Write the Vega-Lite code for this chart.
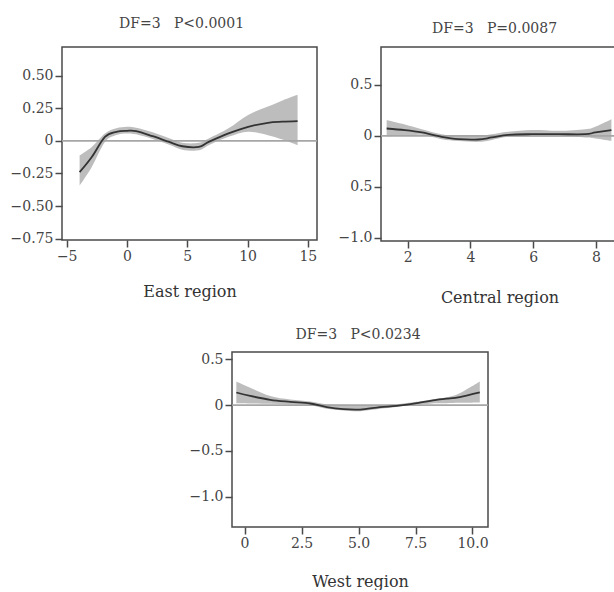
{
  "$schema": "https://vega.github.io/schema/vega-lite/v6.json",
  "padding": {"left": 0, "top": 16, "right": 0, "bottom": 0},
  "background": "white",
  "datasets": {
    "east": [
      {"x": -3.93, "y": -0.24, "lo": -0.343, "hi": -0.111},
      {"x": -2.92, "y": -0.124, "lo": -0.2, "hi": -0.046},
      {"x": -1.83, "y": 0.031, "lo": -0.008, "hi": 0.057},
      {"x": -0.88, "y": 0.07, "lo": 0.045, "hi": 0.096},
      {"x": 0, "y": 0.077, "lo": 0.057, "hi": 0.108},
      {"x": 0.76, "y": 0.075, "lo": 0.05, "hi": 0.1},
      {"x": 2.13, "y": 0.036, "lo": 0.014, "hi": 0.066},
      {"x": 3.5, "y": -0.008, "lo": -0.03, "hi": 0.02},
      {"x": 4.59, "y": -0.041, "lo": -0.067, "hi": -0.015},
      {"x": 5.96, "y": -0.046, "lo": -0.072, "hi": -0.015},
      {"x": 6.78, "y": -0.008, "lo": -0.033, "hi": 0.018},
      {"x": 8.42, "y": 0.057, "lo": 0.031, "hi": 0.096},
      {"x": 10.05, "y": 0.108, "lo": 0.07, "hi": 0.199},
      {"x": 11.69, "y": 0.139, "lo": 0.044, "hi": 0.263},
      {"x": 12.9, "y": 0.147, "lo": 0.01, "hi": 0.31},
      {"x": 14.15, "y": 0.152, "lo": -0.033, "hi": 0.353}
    ],
    "central": [
      {"x": 1.33, "y": 0.072, "lo": -0.005, "hi": 0.154},
      {"x": 1.91, "y": 0.056, "lo": 0.0, "hi": 0.11},
      {"x": 2.45, "y": 0.033, "lo": 0.01, "hi": 0.065},
      {"x": 3.08, "y": -0.01, "lo": -0.033, "hi": 0.016},
      {"x": 3.62, "y": -0.033, "lo": -0.05, "hi": 0.0},
      {"x": 4.25, "y": -0.036, "lo": -0.059, "hi": 0.0},
      {"x": 4.68, "y": -0.016, "lo": -0.04, "hi": 0.015},
      {"x": 5.21, "y": 0.01, "lo": -0.01, "hi": 0.039},
      {"x": 5.96, "y": 0.016, "lo": -0.01, "hi": 0.056},
      {"x": 6.81, "y": 0.016, "lo": -0.01, "hi": 0.049},
      {"x": 7.66, "y": 0.016, "lo": -0.016, "hi": 0.065},
      {"x": 7.98, "y": 0.033, "lo": -0.025, "hi": 0.09},
      {"x": 8.49, "y": 0.056, "lo": -0.049, "hi": 0.163}
    ],
    "west": [
      {"x": -0.36, "y": 0.138, "lo": 0.02, "hi": 0.258},
      {"x": 0.25, "y": 0.1, "lo": 0.018, "hi": 0.19},
      {"x": 1.13, "y": 0.058, "lo": 0.014, "hi": 0.1},
      {"x": 2.0, "y": 0.036, "lo": 0.008, "hi": 0.062},
      {"x": 2.88, "y": 0.018, "lo": 0.0, "hi": 0.04},
      {"x": 3.61, "y": -0.022, "lo": -0.04, "hi": 0.01},
      {"x": 4.34, "y": -0.044, "lo": -0.059, "hi": 0.003},
      {"x": 5.07, "y": -0.048, "lo": -0.066, "hi": 0.0},
      {"x": 5.94, "y": -0.022, "lo": -0.04, "hi": 0.0},
      {"x": 6.67, "y": -0.008, "lo": -0.02, "hi": 0.01},
      {"x": 7.55, "y": 0.022, "lo": 0.003, "hi": 0.036},
      {"x": 8.42, "y": 0.058, "lo": 0.02, "hi": 0.07},
      {"x": 8.86, "y": 0.07, "lo": 0.022, "hi": 0.085},
      {"x": 9.44, "y": 0.088, "lo": 0.025, "hi": 0.13},
      {"x": 10.32, "y": 0.138, "lo": 0.029, "hi": 0.258}
    ],
    "zero": [{"v": 0}]
  },
  "vconcat": [
    {
      "hconcat": [
        {
          "width": 255,
          "height": 193,
          "title": {"text": "DF=3\u00a0\u00a0\u00a0P<0.0001", "offset": 16, "dx": -8},
          "layer": [
            {
              "data": {"name": "east"},
              "mark": {"type": "area", "color": "#bdbdbd", "interpolate": "cardinal"},
              "encoding": {
                "x": {"field": "x", "type": "quantitative", "title": "East region", "scale": {"domain": [-5.39, 15.76], "nice": false, "zero": false}, "axis": {"values": [-5, 0, 5, 10, 15], "tickCount": 10, "titleY": 56, "titleBaseline": "alphabetic", "labelOverlap": false}},
                "y": {"field": "lo", "type": "quantitative", "title": null, "scale": {"domain": [-0.76, 0.72], "nice": false, "zero": false}, "axis": {"values": [-0.75, -0.5, -0.25, 0, 0.25, 0.5], "tickCount": 10, "labelExpr": "datum.value == 0 ? '0' : format(datum.value, '.2f')", "labelOverlap": false, "minExtent": 61, "maxExtent": 61}},
                "y2": {"field": "hi"}
              }
            },
            {
              "data": {"name": "zero"},
              "mark": {"type": "rule", "color": "#a6a6a6", "strokeWidth": 1.6},
              "encoding": {
                "y": {"field": "v", "type": "quantitative", "title": null, "scale": {"domain": [-0.76, 0.72], "nice": false, "zero": false}}
              }
            },
            {
              "data": {"name": "east"},
              "mark": {"type": "line", "color": "#333333", "strokeWidth": 1.8, "interpolate": "cardinal"},
              "encoding": {
                "x": {"field": "x", "type": "quantitative", "title": "East region", "scale": {"domain": [-5.39, 15.76], "nice": false, "zero": false}},
                "y": {"field": "y", "type": "quantitative", "title": null, "scale": {"domain": [-0.76, 0.72], "nice": false, "zero": false}}
              }
            }
          ]
        },
        {
          "width": 237,
          "height": 194,
          "title": {"text": "DF=3\u00a0\u00a0\u00a0P=0.0087", "offset": 11, "dx": -5},
          "layer": [
            {
              "data": {"name": "central"},
              "mark": {"type": "area", "color": "#bdbdbd", "interpolate": "cardinal"},
              "encoding": {
                "x": {"field": "x", "type": "quantitative", "title": "Central region", "scale": {"domain": [1.15, 8.7], "nice": false, "zero": false}, "axis": {"values": [2, 4, 6, 8], "tickCount": 10, "titleY": 61, "titleBaseline": "alphabetic", "labelOverlap": false}},
                "y": {"field": "lo", "type": "quantitative", "title": null, "scale": {"domain": [-1.03, 0.87], "nice": false, "zero": false}, "axis": {"values": [-1, -0.5, 0, 0.5], "tickCount": 10, "labelExpr": "datum.value == 0 ? '0' : datum.value == -0.5 ? '0.5' : format(datum.value, '.1f')", "labelOverlap": false, "minExtent": 43, "maxExtent": 43}},
                "y2": {"field": "hi"}
              }
            },
            {
              "data": {"name": "zero"},
              "mark": {"type": "rule", "color": "#a6a6a6", "strokeWidth": 1.6},
              "encoding": {
                "y": {"field": "v", "type": "quantitative", "title": null, "scale": {"domain": [-1.03, 0.87], "nice": false, "zero": false}}
              }
            },
            {
              "data": {"name": "central"},
              "mark": {"type": "line", "color": "#333333", "strokeWidth": 1.8, "interpolate": "cardinal"},
              "encoding": {
                "x": {"field": "x", "type": "quantitative", "title": "Central region", "scale": {"domain": [1.15, 8.7], "nice": false, "zero": false}},
                "y": {"field": "y", "type": "quantitative", "title": null, "scale": {"domain": [-1.03, 0.87], "nice": false, "zero": false}}
              }
            }
          ]
        }
      ],
      "spacing": 18
    },
    {
      "hconcat": [
        {
          "width": 126,
          "height": 175,
          "view": {"stroke": null},
          "data": {"name": "zero"},
          "mark": {"type": "rule", "opacity": 0},
          "encoding": {
            "y": {"field": "v", "type": "quantitative", "axis": null}
          }
        },
        {
          "width": 256,
          "height": 175,
          "title": {"text": "DF=3\u00a0\u00a0\u00a0P<0.0234", "offset": 10, "dx": -2},
          "layer": [
            {
              "data": {"name": "west"},
              "mark": {"type": "area", "color": "#bdbdbd", "interpolate": "cardinal"},
              "encoding": {
                "x": {"field": "x", "type": "quantitative", "title": "West region", "scale": {"domain": [-0.55, 10.68], "nice": false, "zero": false}, "axis": {"values": [0, 2.5, 5, 7.5, 10], "tickCount": 10, "labelExpr": "datum.value == 0 ? '0' : format(datum.value, '.1f')", "titleY": 59, "titleBaseline": "alphabetic", "labelOverlap": false}},
                "y": {"field": "lo", "type": "quantitative", "title": null, "scale": {"domain": [-1.33, 0.58], "nice": false, "zero": false}, "axis": {"values": [-1, -0.5, 0, 0.5], "tickCount": 10, "labelExpr": "datum.value == 0 ? '0' : format(datum.value, '.1f')", "labelOverlap": false, "minExtent": 43, "maxExtent": 43}},
                "y2": {"field": "hi"}
              }
            },
            {
              "data": {"name": "zero"},
              "mark": {"type": "rule", "color": "#a6a6a6", "strokeWidth": 1.6},
              "encoding": {
                "y": {"field": "v", "type": "quantitative", "title": null, "scale": {"domain": [-1.33, 0.58], "nice": false, "zero": false}}
              }
            },
            {
              "data": {"name": "west"},
              "mark": {"type": "line", "color": "#333333", "strokeWidth": 1.8, "interpolate": "cardinal"},
              "encoding": {
                "x": {"field": "x", "type": "quantitative", "title": "West region", "scale": {"domain": [-0.55, 10.68], "nice": false, "zero": false}},
                "y": {"field": "y", "type": "quantitative", "title": null, "scale": {"domain": [-1.33, 0.58], "nice": false, "zero": false}}
              }
            }
          ]
        }
      ],
      "spacing": 0
    }
  ],
  "spacing": 21,
  "config": {
    "view": {"stroke": "#4a4a4a", "strokeWidth": 1.5},
    "axis": {
      "domain": false,
      "grid": false,
      "tickColor": "#4a4a4a",
      "tickWidth": 1.5,
      "tickSize": 7,
      "labelFont": "DejaVu Serif",
      "labelFontSize": 14,
      "labelColor": "#444444",
      "labelPadding": 2,
      "labelFlush": false,
      "labelOverlap": false,
      "titleFont": "DejaVu Serif",
      "titleFontSize": 16,
      "titleFontWeight": "normal",
      "titleColor": "#333333"
    },
    "title": {"font": "DejaVu Serif", "fontSize": 14, "fontWeight": "normal", "color": "#444444", "frame": "group", "anchor": "middle", "baseline": "alphabetic"}
  }
}
